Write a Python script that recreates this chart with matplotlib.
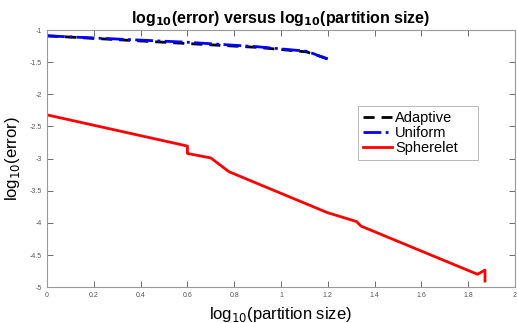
import numpy as np
import matplotlib.pyplot as plt

plt.rcParams['font.family'] = ['Liberation Sans', 'DejaVu Sans']

# log10 partition size / log10 error
x_adapt = [0.0, 0.3, 0.6, 0.9, 1.11, 1.2]
y_adapt = [-1.09, -1.15, -1.21, -1.27, -1.34, -1.45]

x_unif = [0.0, 0.3, 0.6, 0.9, 1.11, 1.2]
y_unif = [-1.09, -1.14, -1.19, -1.26, -1.33, -1.45]

x_sph = [0.0, 0.6, 0.6, 0.70, 0.778, 1.198, 1.323, 1.342, 1.84, 1.872, 1.872]
y_sph = [-2.32, -2.805, -2.92, -2.99, -3.205, -3.84, -3.98, -4.05, -4.80, -4.735, -4.905]

fig = plt.figure(figsize=(5.17, 3.23), dpi=100)
ax = fig.add_axes([0.091, 0.111, 0.905, 0.796])

ax.plot(x_adapt, y_adapt, color='black', ls='--', lw=2, dashes=(4, 2.5), label='Adaptive')
ax.plot(x_unif, y_unif, color='#0000ff', ls='-.', lw=2, label='Uniform')
ax.plot(x_sph, y_sph, color='#ff0000', ls='-', lw=2, label='Spherelet')

ax.set_xlim(0, 2)
ax.set_ylim(-5, -1)
ax.set_xticks(np.arange(0, 2.01, 0.2))
ax.set_yticks(np.arange(-5, -0.99, 0.5))
ax.set_xticklabels(['0', '0.2', '0.4', '0.6', '0.8', '1', '1.2', '1.4', '1.6', '1.8', '2'])
ax.set_yticklabels(['-5', '-4.5', '-4', '-3.5', '-3', '-2.5', '-2', '-1.5', '-1'])
ax.tick_params(direction='in', top=True, right=True, labelsize=5, colors='#555555',
               length=4, width=0.6)
for s in ax.spines.values():
    s.set_color('#999999')
    s.set_linewidth(0.8)

ax.set_title(r'log$_{\mathbf{10}}$(error) versus log$_{\mathbf{10}}$(partition size)',
             fontsize=11.5, fontweight='bold', pad=5)
ax.set_xlabel(r'log$_{10}$(partition size)', fontsize=12, labelpad=4)
ax.set_ylabel(r'log$_{10}$(error)', fontsize=12, labelpad=6)

leg = ax.legend(loc='upper left', bbox_to_anchor=(0.664, 0.704, 0.257, 0.0),
                mode='expand', fontsize=10.5,
                frameon=True, fancybox=False, handlelength=2.0, handletextpad=0.2,
                borderpad=0.35, labelspacing=0.05, borderaxespad=0)
leg.get_frame().set_edgecolor('#999999')
leg.get_frame().set_linewidth(0.6)

fig.savefig('out.png', dpi=100)
